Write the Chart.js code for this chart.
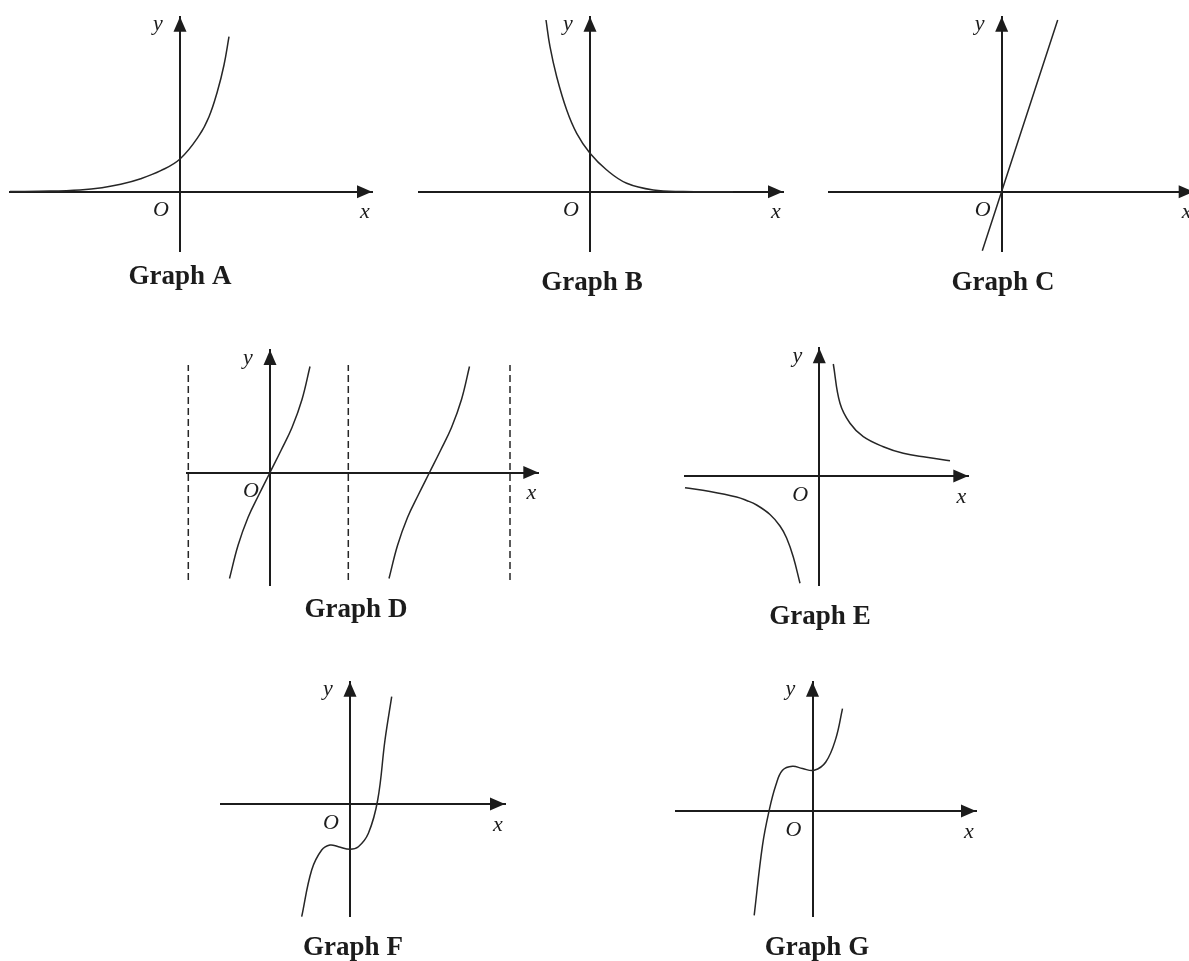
<!DOCTYPE html>
<html>
<head>
<meta charset="utf-8">
<script src="https://cdn.jsdelivr.net/npm/chart.js@4.4.1/dist/chart.umd.min.js"></script>
<style>
    html, body { margin: 0; padding: 0; background: #fff; overflow: hidden; }
    #page { position: relative; width: 1189px; height: 961px; overflow: hidden; background: #fff; }
    #page canvas { position: absolute; }
</style>
</head>
<body>
<div id="page"></div>
<script>
//values, 1 unit is roughly 10 px of the page, origin at O
const captions = ['Graph A', 'Graph B', 'Graph C', 'Graph D', 'Graph E', 'Graph F', 'Graph G'];

//A: growing exponential
const aX = [-17, -13, -10, -7.8, -5.93, -3.93, -1.93, 0, 1.9, 2.9, 3.73, 4.4, 4.9];
const aY = [0.02, 0.06, 0.18, 0.4, 0.74, 1.3, 2.1, 3.27, 5.6, 7.5, 10.0, 12.67, 15.5];

//B: decaying exponential
const bX = [-4.4, -4.0, -3.33, -2.33, -1.33, 0, 1.67, 3.67, 6.33, 9.3, 14.3];
const bY = [17.17, 14.5, 11.5, 8.17, 5.84, 3.84, 2.17, 0.84, 0.17, 0.02, 0];

//C: straight line through O
const cX = [-1.94, 5.6];
const cY = [-5.9, 17.17];

//D: two tan branches + dashed asymptotes
const d1X = [-4.05, -3.2, -2.2, -1.1, 0, 1.1, 2.2, 3.2, 4.0];
const d2X = [11.9, 12.75, 13.75, 14.85, 15.95, 17.05, 18.15, 19.15, 19.95];
const dY = [-10.6, -7.3, -4.5, -2.2, 0, 2.2, 4.5, 7.3, 10.6];
const dAsymX = [-8.17, 7.83, 24.0];
const dAsymY = [-10.75, 10.75];

//E: hyperbola, right and left branch
const eRX = [1.4, 2.07, 3.07, 4.4, 6.4, 8.4, 10.73, 13.07];
const eRY = [11.2, 7.27, 5.27, 3.93, 2.93, 2.27, 1.87, 1.53];
const eLX = [-13.43, -10.93, -8.27, -7.27, -6.27, -4.93, -3.93, -3.27, -2.6, -1.93];
const eLY = [-1.17, -1.55, -2.1, -2.45, -2.9, -3.85, -5.0, -6.2, -8.1, -10.73];

//F: cubic below the x axis at O
const fX = [-4.83, -3.83, -2.83, -2.0, -1.16, 0, 0.84, 1.84, 2.77, 3.5, 4.17];
const fY = [-11.27, -6.6, -4.6, -4.1, -4.27, -4.53, -4.27, -2.93, 0.4, 6.4, 10.73];

//G: cubic above the x axis at O
const gX = [-5.83, -5.0, -4.33, -3.67, -3.0, -2.0, -1.0, 0.17, 1.33, 2.33, 3.0];
const gY = [-10.43, -3.43, 0.07, 2.57, 4.07, 4.47, 4.24, 4.07, 4.9, 7.24, 10.24];

const ink = '#1c1c1c';

function pts(xs, ys) {
    return xs.map((x, i) => ({ x: x, y: ys[i] }));
}

function curve(xs, ys) {
    return {
        data: pts(xs, ys),
        showLine: true,
        borderColor: '#262626',
        borderWidth: 1.5,
        pointRadius: 0,
        tension: 0.4,
        clip: false
    };
}

function asymptote(x) {
    return {
        data: pts([x, x], dAsymY),
        showLine: true,
        borderColor: '#262626',
        borderWidth: 1.5,
        borderDash: [7, 4],
        pointRadius: 0,
        clip: false
    };
}

//arrow heads, x / y / O letters and the caption under each graph
const graphDecor = {
    id: 'graphDecor',
    afterDraw(chart, args, opts) {
        const ctx = chart.ctx;
        const area = chart.chartArea;
        const ox = chart.scales.x.getPixelForValue(0);
        const oy = chart.scales.y.getPixelForValue(0);
        const xt = area.right, yt = area.top;
        ctx.save();
        ctx.fillStyle = ink;
        ctx.beginPath();
        ctx.moveTo(xt, oy);
        ctx.lineTo(xt - 15, oy - 6.5);
        ctx.lineTo(xt - 15, oy + 6.5);
        ctx.closePath();
        ctx.fill();
        ctx.beginPath();
        ctx.moveTo(ox, yt);
        ctx.lineTo(ox - 6.5, yt + 15);
        ctx.lineTo(ox + 6.5, yt + 15);
        ctx.closePath();
        ctx.fill();

        ctx.textAlign = 'center';
        ctx.textBaseline = 'middle';
        ctx.font = 'italic 22px "Liberation Serif"';
        ctx.fillText('y', ox - 22, yt + 8);
        ctx.fillText('O', ox - 19, oy + 19);
        ctx.fillText('x', xt - 7, oy + 21);

        ctx.font = 'bold 27px "Liberation Serif"';
        ctx.fillText(opts.caption, ox + opts.capDx, oy + opts.capDy);
        ctx.restore();
    }
};

function makeGraph(g) {
    const u = 10;
    const left = g.ox + g.xr[0] * u, right = g.ox + g.xr[1] * u;
    const top = g.oy - g.yr[1] * u, bottom = g.oy - g.yr[0] * u;
    const cl = Math.floor(left - 40), ct = Math.floor(top - 40);
    const cw = Math.ceil(right + 40) - cl, chh = Math.ceil(bottom + 60) - ct;

    const canvas = document.createElement('canvas');
    canvas.width = cw;
    canvas.height = chh;
    canvas.style.left = cl + 'px';
    canvas.style.top = ct + 'px';
    canvas.style.width = cw + 'px';
    canvas.style.height = chh + 'px';
    document.getElementById('page').appendChild(canvas);

    new Chart(canvas.getContext('2d'), {
        type: 'scatter',
        data: { datasets: g.datasets },
        options: {
            responsive: false,
            devicePixelRatio: 1,
            animation: false,
            events: [],
            layout: {
                padding: {
                    left: left - cl,
                    right: cl + cw - right,
                    top: top - ct,
                    bottom: ct + chh - bottom
                }
            },
            scales: {
                x: {
                    type: 'linear', min: g.xr[0], max: g.xr[1],
                    position: { y: 0 },
                    ticks: { display: false },
                    grid: { display: false, drawTicks: false },
                    border: { display: true, color: ink, width: 2 }
                },
                y: {
                    type: 'linear', min: g.yr[0], max: g.yr[1],
                    position: { x: 0 },
                    ticks: { display: false },
                    grid: { display: false, drawTicks: false },
                    border: { display: true, color: ink, width: 2 }
                }
            },
            plugins: {
                legend: { display: false },
                tooltip: { enabled: false },
                graphDecor: { caption: g.caption, capDx: g.capDx, capDy: g.capDy }
            }
        },
        plugins: [graphDecor]
    });
}

//1: top row
makeGraph({ caption: captions[0], ox: 180, oy: 191.7, xr: [-17, 19.2], yr: [-6.0, 17.5],
    capDx: 0, capDy: 85, datasets: [curve(aX, aY)] });
makeGraph({ caption: captions[1], ox: 590, oy: 191.7, xr: [-17.1, 19.3], yr: [-6.0, 17.5],
    capDx: 2, capDy: 91.5, datasets: [curve(bX, bY)] });
makeGraph({ caption: captions[2], ox: 1001.7, oy: 191.7, xr: [-17.3, 19.2], yr: [-6.0, 17.5],
    capDx: 1.3, capDy: 91.5, datasets: [curve(cX, cY)] });

//2: middle row
makeGraph({ caption: captions[3], ox: 270, oy: 472.5, xr: [-8.27, 26.83], yr: [-11.25, 12.25],
    capDx: 86, capDy: 137.5,
    datasets: [asymptote(dAsymX[0]), asymptote(dAsymX[1]), asymptote(dAsymX[2]), curve(d1X, dY), curve(d2X, dY)] });
makeGraph({ caption: captions[4], ox: 819.3, oy: 476, xr: [-13.43, 14.9], yr: [-10.9, 12.77],
    capDx: 0.7, capDy: 141, datasets: [curve(eRX, eRY), curve(eLX, eLY)] });

//3: bottom row
makeGraph({ caption: captions[5], ox: 350, oy: 804, xr: [-12.93, 15.5], yr: [-11.27, 12.23],
    capDx: 3, capDy: 144, datasets: [curve(fX, fY)] });
makeGraph({ caption: captions[6], ox: 812.5, oy: 811, xr: [-13.65, 16.35], yr: [-10.57, 12.93],
    capDx: 4.5, capDy: 137, datasets: [curve(gX, gY)] });
</script>
</body>
</html>
